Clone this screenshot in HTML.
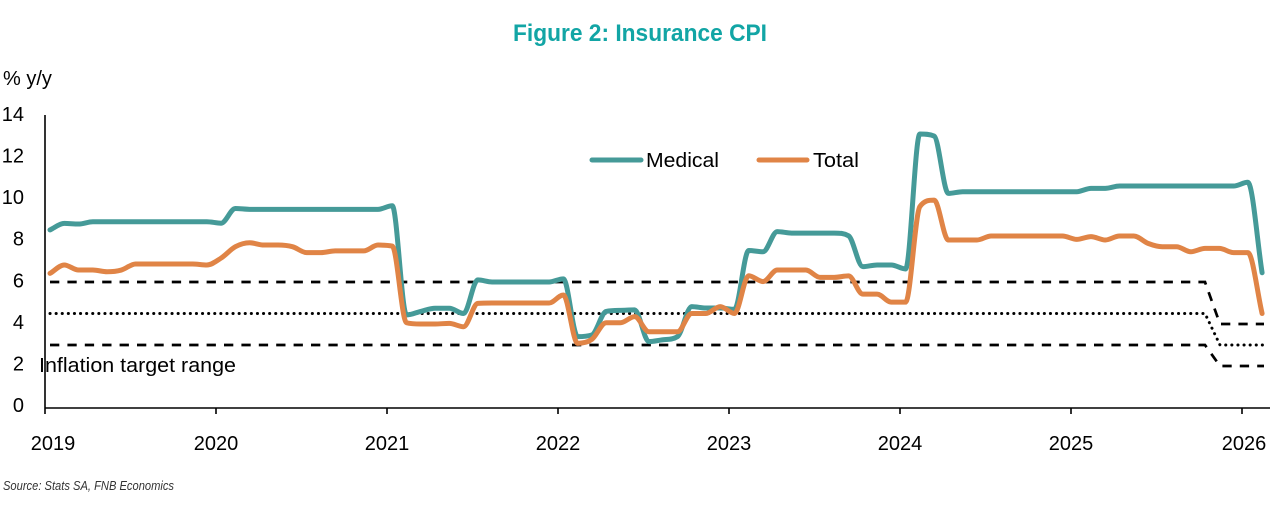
<!DOCTYPE html>
<html>
<head>
<meta charset="utf-8">
<style>
  html, body { margin:0; padding:0; background:#fff; }
  svg { display:block; }
  text { font-family: "Liberation Sans", Arial, sans-serif; }
</style>
</head>
<body>
<svg id="chart" width="1280" height="520" viewBox="0 0 1280 520" xmlns="http://www.w3.org/2000/svg">
  <rect width="1280" height="520" fill="#fff"/>
  <!-- Title -->
  <text x="640" y="41" text-anchor="middle" font-size="24" font-weight="bold" fill="#12a5a5" textLength="254" lengthAdjust="spacingAndGlyphs">Figure 2: Insurance CPI</text>

  <!-- Y unit -->
  <text x="3" y="85" font-size="20" fill="#000">% y/y</text>

  <!-- Y labels -->
  <g font-size="20" fill="#000" text-anchor="end">
    <text x="24" y="121">14</text>
    <text x="24" y="162.5">12</text>
    <text x="24" y="204">10</text>
    <text x="24" y="245.5">8</text>
    <text x="24" y="287.5">6</text>
    <text x="24" y="329">4</text>
    <text x="24" y="370.5">2</text>
    <text x="24" y="412">0</text>
  </g>

  <!-- Target lines -->
  <g fill="none" stroke="#000" stroke-width="2.7">
    <polyline points="50,282 1205,282 1220,324 1264,324" stroke-dasharray="9.3 8.1"/>
    <polyline points="50,345 1205,345 1220,366 1264,366" stroke-dasharray="9.3 8.1"/>
    <polyline points="50,313.5 1205,313.5 1220,345 1264,345" stroke-dasharray="0.1 6" stroke-linecap="round" stroke-width="3"/>
  </g>

  <!-- Axes -->
  <g stroke="#000" stroke-width="1.6" fill="none">
    <line x1="45" y1="115" x2="45" y2="414"/>
    <line x1="45" y1="408" x2="1270" y2="408"/>
    <line x1="216" y1="408" x2="216" y2="414"/>
    <line x1="387" y1="408" x2="387" y2="414"/>
    <line x1="558" y1="408" x2="558" y2="414"/>
    <line x1="729" y1="408" x2="729" y2="414"/>
    <line x1="900" y1="408" x2="900" y2="414"/>
    <line x1="1071" y1="408" x2="1071" y2="414"/>
    <line x1="1242" y1="408" x2="1242" y2="414"/>
  </g>

  <!-- X labels -->
  <g font-size="20" fill="#000" text-anchor="middle">
    <text x="53" y="450">2019</text>
    <text x="216" y="450">2020</text>
    <text x="387" y="450">2021</text>
    <text x="558" y="450">2022</text>
    <text x="729" y="450">2023</text>
    <text x="900" y="450">2024</text>
    <text x="1071" y="450">2025</text>
    <text x="1244" y="450">2026</text>
  </g>

  <!-- Series (data units transformed) -->
  <g id="series" transform="translate(50,408) scale(14.26,-21)" fill="none" stroke-linejoin="round" stroke-linecap="round">
    <polyline class="ser" vector-effect="non-scaling-stroke" stroke="#459a98" stroke-width="5" points="
      0,8.48 1,8.79 2,8.76 3,8.87 4,8.87 5,8.87 6,8.87 7,8.87 8,8.87 9,8.87 10,8.87 11,8.87
      12,8.8 13,9.5 14,9.46 15,9.46 16,9.46 17,9.46 18,9.46 19,9.46 20,9.46 21,9.46 22,9.46 23,9.46
      24,9.63 25,4.43 26,4.6 27,4.75 28,4.75 29,4.5 30,6.1 31,6.0 32,6.0 33,6.0 34,6.0 35,6.0
      36,6.15 37,3.4 38,3.48 39,4.6 40,4.65 41,4.67 42,3.16 43,3.25 44,3.4 45,4.83 46,4.76 47,4.76
      48,4.7 49,7.5 50,7.44 51,8.4 52,8.33 53,8.33 54,8.33 55,8.33 56,8.2 57,6.73 58,6.81 59,6.81
      60,6.62 61,13.05 62,12.95 63,10.22 64,10.3 65,10.3 66,10.3 67,10.3 68,10.3 69,10.3 70,10.3 71,10.3
      72,10.3 73,10.46 74,10.46 75,10.57 76,10.57 77,10.57 78,10.57 79,10.57 80,10.57 81,10.57 82,10.57 83,10.57
      84,10.75 85,6.44"/>
    <polyline class="ser" vector-effect="non-scaling-stroke" stroke="#e08446" stroke-width="5" points="
      0,6.41 1,6.81 2,6.57 3,6.57 4,6.49 5,6.57 6,6.86 7,6.86 8,6.86 9,6.86 10,6.86 11,6.81
      12,7.14 13,7.68 14,7.87 15,7.76 16,7.76 17,7.68 18,7.4 19,7.4 20,7.48 21,7.48 22,7.48 23,7.76
      24,7.71 25,4.06 26,4.0 27,4.0 28,4.03 29,3.87 30,4.98 31,5.0 32,5.0 33,5.0 34,5.0 35,5.0
      36,5.38 37,3.08 38,3.27 39,4.06 40,4.06 41,4.35 42,3.63 43,3.63 44,3.63 45,4.5 46,4.5 47,4.83
      48,4.5 49,6.3 50,6.02 51,6.57 52,6.57 53,6.57 54,6.22 55,6.22 56,6.29 57,5.42 58,5.42 59,5.04
      60,5.04 61,9.59 62,9.9 63,8.0 64,8.0 65,8.0 66,8.19 67,8.19 68,8.19 69,8.19 70,8.19 71,8.19
      72,8.03 73,8.16 74,8.0 75,8.19 76,8.19 77,7.84 78,7.68 79,7.68 80,7.44 81,7.6 82,7.6 83,7.4
      84,7.4 85,4.5"/>
  </g>

  <!-- Legend -->
  <line x1="592" y1="160" x2="641" y2="160" stroke="#459a98" stroke-width="5" stroke-linecap="round"/>
  <text x="646" y="167" font-size="20" fill="#000" textLength="73" lengthAdjust="spacingAndGlyphs">Medical</text>
  <line x1="759" y1="160" x2="807" y2="160" stroke="#e08446" stroke-width="5" stroke-linecap="round"/>
  <text x="813" y="167" font-size="20" fill="#000" textLength="46" lengthAdjust="spacingAndGlyphs">Total</text>

  <!-- Annotation -->
  <text x="39" y="372" font-size="20" fill="#000" textLength="197" lengthAdjust="spacingAndGlyphs">Inflation target range</text>

  <!-- Source -->
  <text x="3" y="490" font-size="13" font-style="italic" fill="#333" textLength="171" lengthAdjust="spacingAndGlyphs">Source: Stats SA, FNB Economics</text>
</svg>
<script>
(function(){
  try {
    var NS = "http://www.w3.org/2000/svg";
    var g = document.getElementById("series");
    var lines = Array.prototype.slice.call(g.querySelectorAll("polyline.ser"));
    var out = document.createElementNS(NS, "g");
    out.setAttribute("fill", "none");
    out.setAttribute("stroke-linejoin", "round");
    out.setAttribute("stroke-linecap", "round");
    function X(i){ return 50 + 14.26*i; }
    function Y(v){ return 408 - 21*v; }
    lines.forEach(function(pl){
      var raw = pl.getAttribute("points").trim().split(/\s+/);
      var ys = raw.map(function(s){ return parseFloat(s.split(",")[1]); });
      var n = ys.length;
      var d = [], m = [];
      for (var i = 0; i < n-1; i++) d.push(ys[i+1]-ys[i]);
      m[0] = d[0]; m[n-1] = d[n-2];
      for (i = 1; i < n-1; i++) {
        if (d[i-1]*d[i] <= 0) m[i] = 0;
        else m[i] = (d[i-1]+d[i])/2;
      }
      for (i = 0; i < n-1; i++) {
        if (d[i] === 0) { m[i] = 0; m[i+1] = 0; continue; }
        var a = m[i]/d[i], b = m[i+1]/d[i], s = a*a + b*b;
        if (s > 9) { var t = 3/Math.sqrt(s); m[i] = t*a*d[i]; m[i+1] = t*b*d[i]; }
      }
      var path = "M" + X(0).toFixed(2) + "," + Y(ys[0]).toFixed(2);
      for (i = 0; i < n-1; i++) {
        path += " C" + X(i+1/3).toFixed(2) + "," + Y(ys[i] + m[i]/3).toFixed(2) +
                " " + X(i+2/3).toFixed(2) + "," + Y(ys[i+1] - m[i+1]/3).toFixed(2) +
                " " + X(i+1).toFixed(2) + "," + Y(ys[i+1]).toFixed(2);
      }
      var p = document.createElementNS(NS, "path");
      p.setAttribute("d", path);
      p.setAttribute("stroke", pl.getAttribute("stroke"));
      p.setAttribute("stroke-width", "5");
      out.appendChild(p);
    });
    g.parentNode.insertBefore(out, g);
    g.parentNode.removeChild(g);
  } catch(e) {}
})();
</script>
</body>
</html>
